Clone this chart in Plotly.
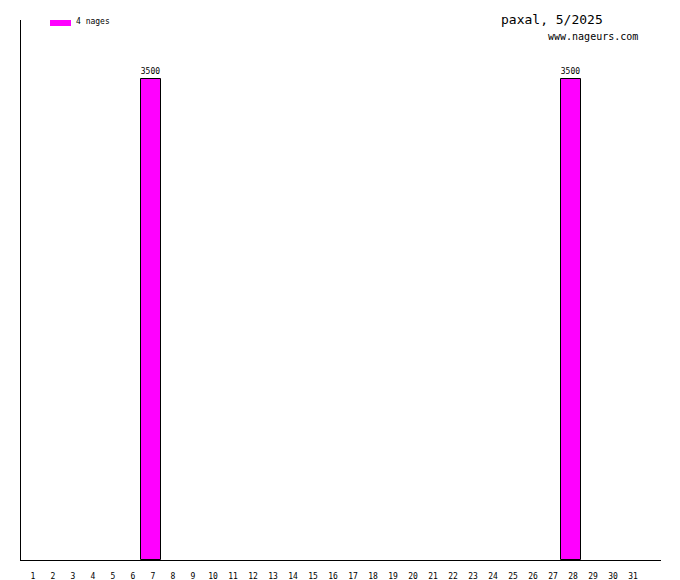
import plotly.graph_objects as go

days = list(range(1, 32))
distances = [0, 0, 0, 0, 0, 0, 3500, 0, 0, 0, 0, 0, 0, 0, 0, 0, 0, 0, 0, 0,
             0, 0, 0, 0, 0, 0, 0, 3500, 0, 0, 0]
series_name = "4 nages"
title_text = "paxal, 5/2025"
site_text = "www.nageurs.com"
bar_color = "#ff00ff"

FONT = "DejaVu Sans Mono"

fig = go.Figure()
fig.add_trace(go.Bar(
    x=days, y=[v if v else None for v in distances], width=1,
    marker=dict(color=bar_color, line=dict(color="black", width=1)),
    text=[str(v) if v else "" for v in distances],
    textposition="outside", cliponaxis=False,
    textfont=dict(family=FONT, size=8, color="black"),
    name=series_name, showlegend=False,
))

fig.update_layout(
    template="none",
    width=680, height=580,
    margin=dict(l=21, r=19, t=20, b=20, pad=0, autoexpand=False),
    plot_bgcolor="white", paper_bgcolor="white",
    bargap=0,
    xaxis=dict(range=[0.5, 32.5], tickmode="array", tickvals=days,
               ticktext=[str(d) for d in days], showgrid=False, zeroline=False,
               showline=True, linecolor="black", linewidth=1, ticks="",
               tickfont=dict(family=FONT, size=8, color="black"),
               ticklabelshift=2, ticklabelstandoff=8, automargin=False),
    yaxis=dict(range=[0, 3929], showgrid=False, zeroline=False,
               showline=True, linecolor="black", linewidth=1,
               showticklabels=False, ticks="", automargin=False),
    font=dict(family=FONT, color="black"),
)

# legend swatch + label
fig.add_shape(type="rect", xref="paper", yref="paper",
              x0=29/640, x1=50/640, y0=1-(6/540), y1=1.0,
              fillcolor=bar_color, line=dict(width=0))
fig.add_annotation(text=series_name, xref="paper", yref="paper",
                   x=53/640, y=1-(2/540), xanchor="left", yanchor="middle",
                   showarrow=False, font=dict(family=FONT, size=8, color="black"))
fig.add_annotation(text=title_text, xref="paper", yref="paper",
                   x=584/640, y=1+(1/540), xanchor="right", yanchor="middle",
                   showarrow=False, font=dict(family=FONT, size=13, color="black"))
fig.add_annotation(text=site_text, xref="paper", yref="paper",
                   x=619/640, y=1-(17/540), xanchor="right", yanchor="middle",
                   showarrow=False, font=dict(family=FONT, size=10, color="black"))

fig.write_html("out.html", config={"displayModeBar": False},
               post_script="document.body.style.margin='0';document.body.style.overflow='hidden';")
